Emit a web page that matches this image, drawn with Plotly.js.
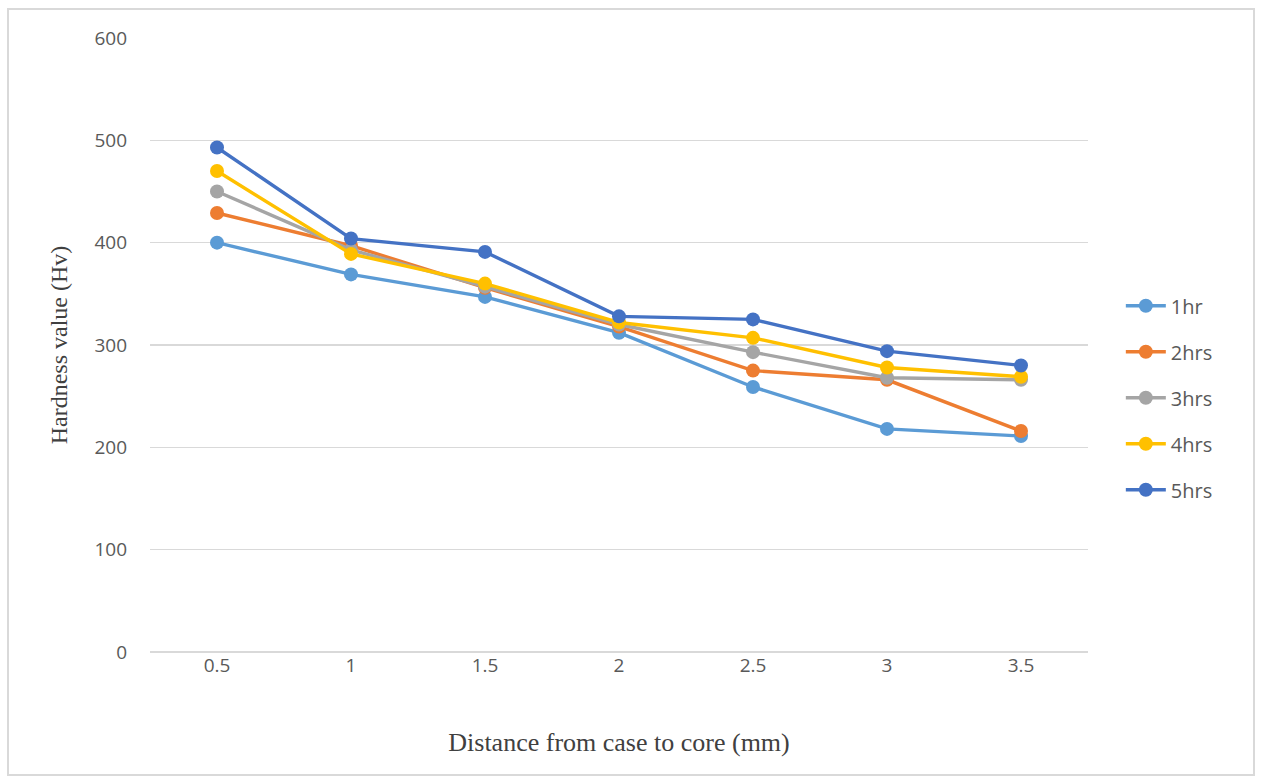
<!DOCTYPE html>
<html>
<head>
<meta charset="utf-8">
<script src="https://cdn.plot.ly/plotly-3.0.1.min.js"></script>
<style>
html,body{margin:0;padding:0;background:#fff;}
#wrap{position:relative;width:1262px;height:783px;}
#chart{width:1262px;height:783px;}
#frame{position:absolute;left:7px;top:8px;width:1248px;height:768px;border:2px solid #d9d9d9;box-sizing:border-box;pointer-events:none;}
</style>
</head>
<body>
<div id="wrap"><div id="chart"></div><div id="frame"></div></div>
<script>
const distances = ['0.5','1','1.5','2','2.5','3','3.5'];
const seriesNames = ['1hr','2hrs','3hrs','4hrs','5hrs'];
const hr1 = [400, 369, 347, 312, 259, 218, 211];
const hrs2 = [429, 397, 356, 318, 275, 266, 216];
const hrs3 = [450, 393, 357, 320, 293, 268, 266];
const hrs4 = [470, 389, 360, 322, 307, 278, 269];
const hrs5 = [493, 404, 391, 328, 325, 294, 280];
const colors = ['#5b9bd5','#ed7d31','#a5a5a5','#ffc000','#4472c4'];
const allSeries = [hr1, hrs2, hrs3, hrs4, hrs5];

const traces = allSeries.map((vals, i) => ({
  x: distances,
  y: vals,
  name: seriesNames[i],
  type: 'scatter',
  mode: 'lines+markers',
  legendgroup: 'g' + i,
  line: {color: colors[i], width: 3.4},
  marker: {color: colors[i], size: 14}
}));

const tickFont = {family: '"Open Sans", Lato, sans-serif', size: 19, color: '#595959'};
const titleFontFamily = '"Liberation Serif", "Times New Roman", serif';

const layout = {
  width: 1262, height: 783,
  margin: {l: 150, r: 174, t: 38, b: 131},
  paper_bgcolor: '#ffffff',
  plot_bgcolor: '#ffffff',
  showlegend: true,
  legend: {
    x: 1.035, xanchor: 'left', y: 0.414, yanchor: 'middle',
    font: {family: '"Open Sans", Lato, sans-serif', size: 20, color: '#595959'},
    traceorder: 'grouped', tracegroupgap: 17,
    itemwidth: 40
  },
  xaxis: {
    type: 'category',
    range: [-0.5, 6.5],
    showgrid: false,
    zeroline: false,
    showline: false,
    ticks: '',
    tickfont: tickFont,
    title: {text: 'Distance from case to core (mm)', font: {family: titleFontFamily, size: 26, color: '#404040'}, standoff: 55}
  },
  yaxis: {
    range: [0, 600],
    dtick: 100,
    showgrid: true,
    gridcolor: '#d9d9d9',
    gridwidth: 1.5,
    zeroline: true,
    zerolinecolor: '#d9d9d9',
    zerolinewidth: 1.5,
    showline: false,
    ticks: '',
    ticklabelstandoff: 22,
    tickfont: tickFont,
    title: {text: 'Hardness value (Hv)', font: {family: titleFontFamily, size: 24, color: '#404040'}, standoff: 20}
  }
};

Plotly.newPlot('chart', traces, layout, {displayModeBar: false, staticPlot: true});
</script>
</body>
</html>
